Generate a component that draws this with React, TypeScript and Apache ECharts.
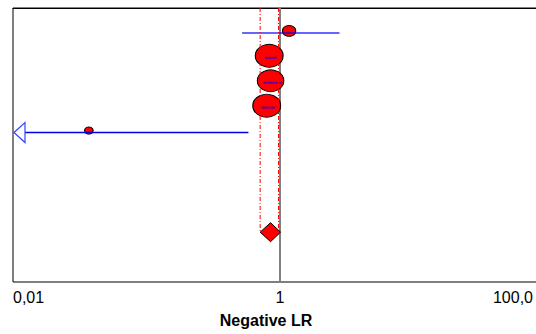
import React, { useEffect, useRef } from "react";
import * as echarts from "echarts";

// Individual studies (row index from top)
const rows = [1, 2, 3, 4, 5];
const estimates = [1.17, 0.83, 0.85, 0.795, 0.037];
const lowerCI = [0.52, 0.773, 0.75, 0.73, 0.004];
const upperCI = [2.79, 0.944, 1.04, 0.918, 0.58];
const weights = [7, 31, 28, 31, 3];

// Pooled estimate
const pooledRow = 9;
const pooledEst = 0.85;
const pooledLo = 0.71;
const pooledHi = 0.975;

// Axis
const xMin = 0.01;
const xMax = 100;
const nullValue = 1;
const tickValues = [0.01, 1, 100];
const tickLabels = ["0,01", "1", "100,0"];
const axisTitle = "Negative LR";

const FONT = "'Liberation Sans', Arial, Helvetica, sans-serif";

export default function App() {
  const ref = useRef<HTMLDivElement>(null);

  useEffect(() => {
    if (!ref.current) return;
    const chart = echarts.init(ref.current, null, { renderer: "svg" });

    const ciData = rows.map((r, i) => [lowerCI[i], upperCI[i], r]);
    const pointData = rows.map((r, i) => ({
      value: [estimates[i], r],
      symbolSize: [5 * Math.sqrt(weights[i]), 0.82 * 5 * Math.sqrt(weights[i])],
    }));

    const option: any = {
      animation: false,
      title: {
        text: axisTitle,
        left: 266,
        top: 312,
        textAlign: "center",
        padding: 0,
        textStyle: { fontFamily: FONT, fontSize: 16, fontWeight: "bold", color: "#000" },
      },
      grid: {
        left: 13,
        top: 8,
        width: 534,
        height: 274,
        outerBoundsMode: "none",
        containLabel: false,
        show: true,
        borderColor: "#000",
        borderWidth: 1,
        backgroundColor: "transparent",
      },
      xAxis: {
        type: "log",
        logBase: 10,
        min: xMin,
        max: xMax,
        axisLine: { show: true, lineStyle: { color: "#000", width: 1 } },
        axisTick: { show: false },
        splitLine: { show: false },
        axisLabel: {
          show: true,
          showMinLabel: true,
          showMaxLabel: true,
          alignMinLabel: "left",
          alignMaxLabel: "right",
          margin: 7,
          color: "#000",
          fontFamily: FONT,
          fontSize: 16,
          formatter: (v: number) => {
            const e = Math.round(Math.log10(v));
            const idx = tickValues.findIndex((t) => Math.round(Math.log10(t)) === e);
            if (idx < 0) return "";
            if (idx === tickValues.length - 1) return `{r|${tickLabels[idx]}}`;
            return tickLabels[idx];
          },
          rich: {
            r: { padding: [0, 14, 0, 0], fontFamily: FONT, fontSize: 16, color: "#000" },
          },
        },
      },
      yAxis: {
        type: "value",
        inverse: true,
        min: 0,
        max: 11,
        show: false,
      },
      series: [
        {
          type: "scatter",
          name: "estimates",
          z: 3,
          symbol: "circle",
          symbolOffset: [0, -2],
          itemStyle: { color: "#ff0000", borderColor: "#000", borderWidth: 1, opacity: 1 },
          data: pointData,
          markLine: {
            silent: true,
            z: 2,
            symbol: ["none", "none"],
            label: { show: false },
            lineStyle: { color: "#808080", width: 2, type: "solid" },
            data: [{ xAxis: nullValue }],
          },
        },
        {
          type: "custom",
          name: "pooled",
          z: 5,
          data: [[pooledEst, pooledLo, pooledHi, pooledRow]],
          encode: { x: [0, 1, 2], y: 3 },
          renderItem: (params: any, api: any) => {
            const est = api.value(0);
            const lo = api.value(1);
            const hi = api.value(2);
            const row = api.value(3);
            const c = api.coord([est, row]);
            const l = api.coord([lo, row]);
            const h = api.coord([hi, row]);
            const top = api.coord([lo, 0]);
            const dash = { stroke: "#ff0000", lineWidth: 1, lineDash: [4, 2, 1, 2], fill: null };
            return {
              type: "group",
              children: [
                { type: "line", shape: { x1: l[0], y1: top[1], x2: l[0], y2: l[1] }, style: dash },
                { type: "line", shape: { x1: h[0], y1: top[1], x2: h[0], y2: h[1] }, style: dash },
                {
                  type: "polygon",
                  shape: {
                    points: [
                      [l[0], c[1]],
                      [c[0], c[1] - 9.5],
                      [h[0] + 2, c[1]],
                      [c[0], c[1] + 9.5],
                    ],
                  },
                  style: { fill: "#ff0000", stroke: "#000", lineWidth: 1 },
                },
              ],
            };
          },
        },
        {
          type: "custom",
          name: "ci",
          z: 4,
          data: ciData,
          encode: { x: [0, 1], y: 2 },
          renderItem: (params: any, api: any) => {
            const lo = api.value(0);
            const hi = api.value(1);
            const row = api.value(2);
            const clipped = lo < xMin;
            const p1 = api.coord([clipped ? xMin : lo, row]);
            const p2 = api.coord([hi, row]);
            const children: any[] = [];
            if (clipped) {
              children.push({
                type: "line",
                shape: { x1: p1[0] + 12, y1: p1[1], x2: p2[0], y2: p2[1] },
                style: { stroke: "#0000e0", lineWidth: 1.5 },
              });
              children.push({
                type: "polygon",
                shape: {
                  points: [
                    [p1[0] + 1, p1[1]],
                    [p1[0] + 12, p1[1] - 10],
                    [p1[0] + 12, p1[1] + 10],
                  ],
                },
                style: { fill: "#fff", stroke: "#3344ff", lineWidth: 1.2 },
              });
            } else {
              children.push({
                type: "line",
                shape: { x1: p1[0], y1: p1[1], x2: p2[0], y2: p2[1] },
                style: { stroke: "rgba(0,0,255,0.6)", lineWidth: 2 },
              });
            }
            return { type: "group", children };
          },
        },
      ],
    };

    chart.setOption(option);
    return () => chart.dispose();
  }, []);

  return (
    <div
      ref={ref}
      style={{ position: "absolute", left: 0, top: 0, width: 536, height: 334, background: "#fff" }}
    />
  );
}
